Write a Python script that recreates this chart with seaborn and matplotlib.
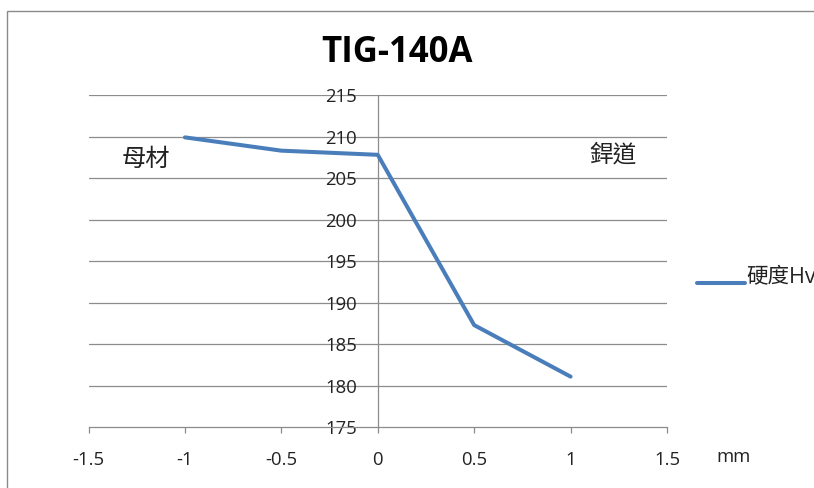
import matplotlib
matplotlib.use("Agg")
import matplotlib.pyplot as plt
from matplotlib.patches import Rectangle
import seaborn as sns
import pandas as pd

# Hardness profile across the weld (distance in mm from fusion line)
positions = [-1.0, -0.5, 0.0, 0.5, 1.0]
hardness = [209.9, 208.3, 207.8, 187.3, 181.1]
series_name = "硬度Hv"
x_ticks = [-1.5, -1, -0.5, 0, 0.5, 1, 1.5]
x_tick_labels = ["-1.5", "-1", "-0.5", "0", "0.5", "1", "1.5"]
y_ticks = [175, 180, 185, 190, 195, 200, 205, 210, 215]

sns.set_theme(style="white")
plt.rcParams["font.family"] = ["Open Sans", "Noto Sans CJK TC", "DejaVu Sans"]

df = pd.DataFrame({"mm": positions, "hv": hardness, "series": series_name})

W, H, DPI = 814, 488, 100
fig = plt.figure(figsize=(W / DPI, H / DPI), dpi=DPI)
fig.patch.set_facecolor("white")

# Outer chart frame
fig.patches.append(Rectangle((7 / W, -0.1), 1.2, 1 - 10.5 / H + 0.1,
                             transform=fig.transFigure, fill=False,
                             edgecolor="#8a8a8a", linewidth=1.0))

ax = fig.add_axes([88.5 / W, 1 - 427.3 / H, (667 - 88.5) / W, (427.3 - 95) / H])
ax.set_facecolor("none")

grid_c = "#8c8c8c"
for yv in y_ticks[1:]:
    ax.axhline(yv, color=grid_c, lw=0.9, zorder=0)

sns.lineplot(data=df, x="mm", y="hv", hue="series", palette=["#4a7ebb"],
             linewidth=2.9, ax=ax, legend=False, zorder=3)

ax.set_xlim(-1.5, 1.5)
ax.set_ylim(175, 215)
ax.set_xticks(x_ticks)
ax.set_xticklabels(x_tick_labels)
ax.set_yticks(y_ticks)
ax.set_xlabel("")
ax.set_ylabel("")

for s in ["top", "right"]:
    ax.spines[s].set_visible(False)
ax.spines["left"].set_position(("data", 0))
ax.spines["left"].set_color(grid_c)
ax.spines["left"].set_linewidth(0.9)
ax.spines["bottom"].set_color(grid_c)
ax.spines["bottom"].set_linewidth(0.9)

ax.tick_params(axis="x", direction="out", length=4, width=0.9, color=grid_c,
               pad=13, labelsize=13.3, labelcolor="#222222", bottom=True)
ax.tick_params(axis="y", length=0, pad=15, labelsize=13.3, labelcolor="#222222", left=True)

# Chart title
fig.text(397 / W, 1 - 53 / H, "TIG-140A", fontsize=25, fontweight="bold",
         family=["Open Sans", "DejaVu Sans"], color="black", ha="center", va="center")

cjk = ["Noto Sans CJK TC", "DejaVu Sans"]
fig.text(122 / W, 1 - 159 / H, "母材", fontsize=17.5, family=cjk, va="center", ha="left", color="#222222")
fig.text(589 / W, 1 - 155 / H, "銲道", fontsize=17, family=cjk, va="center", ha="left", color="#222222")
fig.text(716 / W, 1 - 457 / H, "mm", fontsize=13.3, va="center", ha="left", color="#222222")

# Legend entry on the right
fig.lines.append(plt.Line2D([697 / W, 745 / W], [1 - 283 / H, 1 - 283 / H],
                            transform=fig.transFigure, color="#4a7ebb", lw=2.9))
fig.text(746 / W, 1 - 278 / H, series_name, fontsize=15.5, family=["Open Sans", "Noto Sans CJK TC"],
         va="center", ha="left", color="#222222")

fig.savefig("out.png", dpi=DPI, facecolor="white")
